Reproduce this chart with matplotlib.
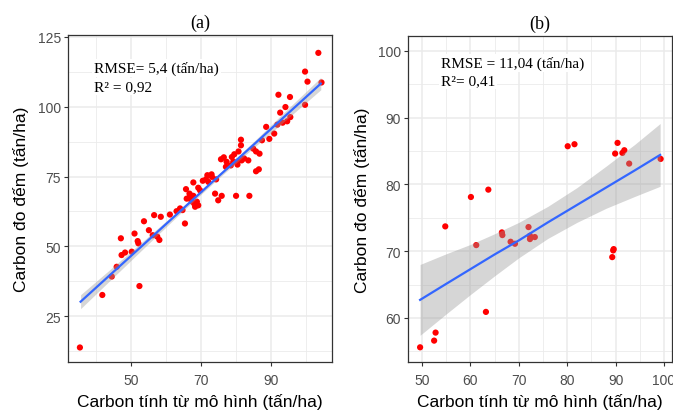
import numpy as np
import matplotlib
matplotlib.use("Agg")
import matplotlib.pyplot as plt
from matplotlib.ticker import MultipleLocator

plt.rcParams['font.family'] = ['Liberation Sans', 'DejaVu Sans']

# panel (a): model carbon vs counted carbon (tan/ha)
a_model = [103.5, 99.7, 100.4, 104.4, 99.7, 92.1, 95.4, 94.1, 92.6, 95.5,
           94.6, 93.3, 91.8, 88.6, 90.9, 89.5, 87.4, 81.4, 81.4, 84.9,
           85.7, 86.7, 80.7, 78.8, 75.7, 77.3, 79.2, 80.4, 81.6, 83.5,
           77.1, 78.5, 80.4, 85.7, 86.5, 71.8, 73.1, 74.3, 71.4, 72.1,
           67.8, 65.7, 69.2, 69.7, 66.7, 67.8, 66.9, 65.9, 67.3, 68.8,
           69.2, 68.3, 74.0, 75.9, 74.9, 80.0, 83.8, 64.0, 63.0, 61.1,
           56.6, 58.5, 35.4, 41.8, 52.4, 44.5, 45.9, 47.3, 48.3, 50.2,
           47.1, 51.0, 51.9, 52.1, 53.7, 55.1, 56.2, 57.5, 58.1, 65.4,
           66.9, 68.0, 64.7, 76.5, 82.3, 79.5, 73.0, 70.5]
a_count = [119.3, 112.6, 109.0, 108.7, 100.7, 104.3, 103.5, 99.9, 97.9, 96.3,
           94.8, 94.3, 93.6, 92.8, 90.4, 88.5, 88.0, 88.2, 86.2, 85.0,
           84.0, 83.2, 84.0, 82.0, 81.2, 80.3, 80.3, 80.3, 80.8, 80.8,
           78.5, 79.0, 79.3, 76.9, 77.6, 75.5, 74.9, 74.0, 74.0, 73.1,
           72.9, 70.5, 71.0, 70.1, 68.9, 68.1, 67.4, 67.1, 66.2, 66.0,
           64.7, 64.2, 68.9, 68.1, 66.5, 68.1, 68.1, 63.6, 62.6, 61.4,
           61.2, 60.6, 13.8, 32.6, 35.8, 39.2, 42.7, 46.9, 47.8, 48.1,
           52.9, 54.6, 51.9, 51.1, 59.0, 55.8, 54.0, 53.5, 52.3, 58.2,
           68.4, 65.4, 63.0, 81.9, 81.5, 83.0, 75.8, 73.5]
a_fit_x = [35.6, 45, 55, 65, 75, 85, 95, 104.2]
a_fit_y = [30.2, 40.9, 52.3, 63.7, 75.1, 86.4, 97.8, 108.3]
a_band_lo = [27.7, 39.0, 51.0, 62.9, 74.4, 85.3, 96.1, 106.1]
a_band_hi = [32.7, 42.8, 53.6, 64.5, 75.8, 87.5, 99.5, 110.5]

# panel (b)
b_model = [49.6, 52.5, 52.8, 54.8, 60.1, 63.7, 61.2, 63.2, 66.5, 66.6,
           68.3, 69.2, 72.0, 72.3, 73.3, 72.3, 80.1, 81.5, 90.4, 89.9,
           91.4, 91.8, 92.8, 99.3, 89.6, 89.5, 89.3]
b_count = [55.6, 56.6, 57.8, 73.7, 78.1, 79.2, 70.9, 60.9, 72.8, 72.4,
           71.4, 71.1, 73.6, 71.8, 72.1, 72.3, 85.7, 86.0, 86.2, 84.6,
           84.7, 85.1, 83.1, 83.8, 70.3, 70.1, 69.1]
b_fit_x = [49.6, 55, 60, 65, 70, 76, 82, 88, 94, 99.2]
b_fit_y = [62.7, 65.1, 67.3, 69.5, 71.6, 74.3, 76.9, 79.5, 82.1, 84.4]
b_band_lo = [57.4, 60.6, 63.5, 66.3, 69.0, 71.9, 74.3, 76.4, 78.2, 79.7]
b_band_hi = [68.0, 69.6, 71.0, 72.6, 74.3, 76.7, 79.5, 82.7, 86.0, 89.1]

fig = plt.figure(figsize=(6.73, 4.14), dpi=100)
W, H = 673, 414
ax_a = fig.add_axes([68 / W, 1 - 363 / H, 264 / W, 327 / H])
ax_b = fig.add_axes([408 / W, 1 - 363 / H, 264 / W, 326 / H])


def style(ax, xmaj, xoff, ymaj):
    ax.xaxis.set_major_locator(MultipleLocator(xmaj, offset=xoff))
    ax.xaxis.set_minor_locator(MultipleLocator(xmaj / 2))
    ax.yaxis.set_major_locator(MultipleLocator(ymaj))
    ax.yaxis.set_minor_locator(MultipleLocator(ymaj / 2))
    ax.set_axisbelow(True)
    ax.grid(which='major', color='#EBEBEB', lw=1.1)
    ax.grid(which='minor', color='#EBEBEB', lw=0.6)
    ax.tick_params(which='major', direction='out', length=3, width=0.8,
                   color='#333333', labelcolor='#4D4D4D', labelsize=10, pad=2)
    ax.tick_params(axis='x', which='major', pad=5)
    ax.tick_params(which='minor', length=0)
    for s in ax.spines.values():
        s.set_color('#333333')
        s.set_linewidth(0.9)
    ax.set_xlabel('Carbon tính từ mô hình (tấn/ha)', fontsize=12.5, labelpad=4)
    ax.set_ylabel('Carbon đo đếm (tấn/ha)', fontsize=12.5, labelpad=6)


def panel(ax, xs, ys, fx, fy, lo, hi):
    ax.scatter(xs, ys, s=20, color='#FF0000', edgecolors='none', zorder=3)
    ax.fill_between(fx, lo, hi, color='#999999', alpha=0.4, lw=0, zorder=4)
    ax.plot(fx, fy, color='#3366FF', lw=1.6, zorder=5)


panel(ax_a, a_model, a_count, a_fit_x, a_fit_y, a_band_lo, a_band_hi)
style(ax_a, 20, 10, 25)
ax_a.set_xlim(32, 107.4)
ax_a.set_ylim(8.6, 125.7)
ax_a.set_title('(a)', family='Liberation Serif', fontsize=13, pad=6)

panel(ax_b, b_model, b_count, b_fit_x, b_fit_y, b_band_lo, b_band_hi)
style(ax_b, 10, 0, 10)
ax_b.set_xlim(47.1, 101.65)
ax_b.set_ylim(53.4, 102.2)
ax_b.set_title('(b)', family='Liberation Serif', fontsize=13, pad=6)

box = dict(facecolor='white', edgecolor='none', pad=1.5)
ax_a.text(0.098, 0.832, 'R² = 0,92', transform=ax_a.transAxes, family='Liberation Serif',
          fontsize=11, va='baseline', bbox=box, zorder=6)
ax_a.text(0.098, 0.887, 'RMSE= 5,4 (tấn/ha)', transform=ax_a.transAxes, family='Liberation Serif',
          fontsize=11, va='baseline', bbox=box, zorder=7)
ax_b.text(0.125, 0.853, 'R²= 0,41', transform=ax_b.transAxes, family='Liberation Serif',
          fontsize=11, va='baseline', bbox=box, zorder=6)
ax_b.text(0.125, 0.905, 'RMSE = 11,04 (tấn/ha)', transform=ax_b.transAxes, family='Liberation Serif',
          fontsize=11, va='baseline', bbox=box, zorder=7)

fig.savefig('out.png', dpi=100)
